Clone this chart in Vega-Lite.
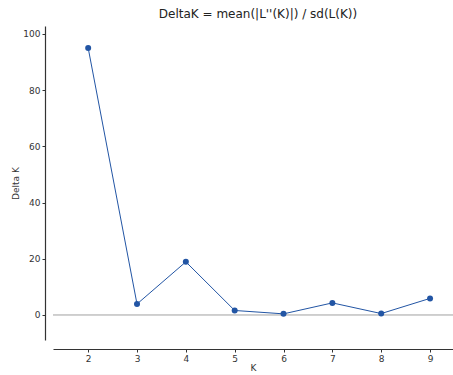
{
  "$schema": "https://vega.github.io/schema/vega-lite/v6.json",
  "autosize": "none",
  "width": 400,
  "height": 314,
  "padding": {"left": 53, "top": 26, "right": 0, "bottom": 35},
  "background": "white",
  "title": {"text": "DeltaK = mean(|L''(K)|) / sd(L(K))", "font": "DejaVu Sans", "fontSize": 12, "fontWeight": "normal", "color": "#222222", "anchor": "middle", "offset": 5, "dx": 5},
  "config": {"view": {"stroke": null}},
  "datasets": {
    "dk": [
      {"K": 2, "DeltaK": 95.0},
      {"K": 3, "DeltaK": 3.9},
      {"K": 4, "DeltaK": 18.9},
      {"K": 5, "DeltaK": 1.6},
      {"K": 6, "DeltaK": 0.4},
      {"K": 7, "DeltaK": 4.3},
      {"K": 8, "DeltaK": 0.5},
      {"K": 9, "DeltaK": 5.9}
    ],
    "zero": [{"z": 0}]
  },
  "layer": [
    {
      "data": {"name": "zero"},
      "mark": {"type": "rule", "color": "#a0a0a0", "strokeWidth": 1},
      "encoding": {"y": {"field": "z", "type": "quantitative", "scale": {"domain": [-8.9, 102.8]}}}
    },
    {
      "data": {"name": "dk"},
      "mark": {"type": "line", "color": "#2255a4", "strokeWidth": 1, "point": {"filled": true, "size": 36, "color": "#2255a4", "opacity": 1}},
      "encoding": {
        "x": {"field": "K", "type": "quantitative", "scale": {"domain": [1.28, 9.47], "nice": false, "zero": false},
          "axis": {"values": [2,3,4,5,6,7,8,9], "grid": false, "offset": 9, "title": "K", "titleFont": "DejaVu Sans", "titleFontSize": 9, "titleFontWeight": "normal", "titleColor": "#333333", "titlePadding": 0, "labelFont": "DejaVu Sans", "labelFontSize": 9, "labelColor": "#333333", "labelPadding": 2, "domainColor": "#333333", "domainWidth": 1.2, "tickColor": "#333333", "tickSize": 3}},
        "y": {"field": "DeltaK", "type": "quantitative", "scale": {"domain": [-8.9, 102.8], "nice": false, "zero": false},
          "axis": {"values": [0,20,40,60,80,100], "grid": false, "offset": 8, "title": "Delta K", "titleFont": "DejaVu Sans", "titleFontSize": 9, "titleFontWeight": "normal", "titleColor": "#333333", "titlePadding": 2, "labelFont": "DejaVu Sans", "labelFontSize": 9, "labelColor": "#333333", "labelPadding": 2, "domainColor": "#333333", "domainWidth": 1.2, "tickColor": "#333333", "tickSize": 3}}
      }
    }
  ]
}
